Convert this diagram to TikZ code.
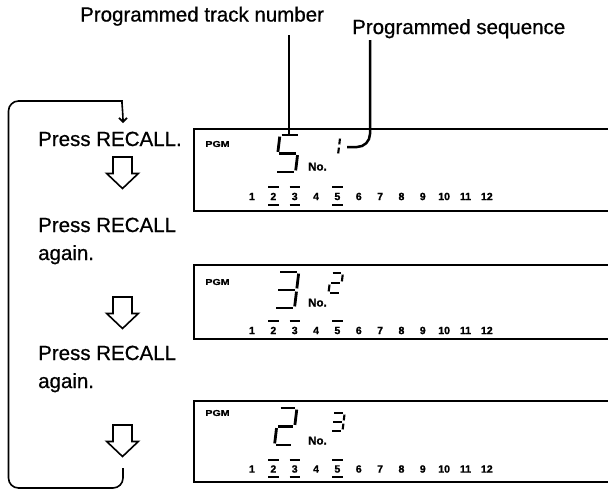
\documentclass[tikz,border=0pt]{standalone}
\usepackage{fontspec}
\setmainfont{Liberation Sans}
\newfontfamily\lblfont{Liberation Sans}[FakeBold=0.7]
\newfontfamily\heavyfont{Liberation Sans Bold}[FakeBold=1.2]
\usetikzlibrary{arrows.meta}
\newcommand\sevdig[6]{% x0, y0 (bottom-left), W, H, line width, segments
 \begin{scope}[shift={(#1,#2)},xslant=0.12,line width=#5]
  \foreach \s in {#6}{%
   \if\s a\draw (1.6,-#4) -- (#3-1.6,-#4);\fi
   \if\s b\draw (#3,-#4+1.6) -- (#3,-#4/2-1.6);\fi
   \if\s c\draw (#3,-#4/2+1.6) -- (#3,-1.6);\fi
   \if\s d\draw (1.6,0) -- (#3-1.6,0);\fi
   \if\s e\draw (0,-1.6) -- (0,-#4/2+1.6);\fi
   \if\s f\draw (0,-#4/2-1.6) -- (0,-#4+1.6);\fi
   \if\s g\draw (1.6,-#4/2) -- (#3-1.6,-#4/2);\fi
  }
 \end{scope}}
\begin{document}
\begin{tikzpicture}[x=1pt,y=-1pt,
  lbl/.style={font=\lblfont\fontsize{20.5}{24}\selectfont, inner sep=0pt, anchor=base west},
  pgm/.style={font=\heavyfont\fontsize{8.5}{10}\selectfont, inner sep=0pt, xscale=1.25},
  nolbl/.style={font=\heavyfont\fontsize{11.5}{12}\selectfont, inner sep=0pt, anchor=base west},
  num/.style={font=\heavyfont\fontsize{10.5}{12}\selectfont, inner sep=0pt},
  box/.style={line width=2pt},
  bar/.style={line width=2pt},
  pointer/.style={line width=2.5pt},
  loopline/.style={line width=1.6pt},
  hollowdown/.pic={\draw[line width=1.6pt, line join=miter]
     (-9.5,0) -- (9.5,0) -- (9.5,16.5) -- (15.8,16.5) -- (0,31.5) -- (-15.8,16.5) -- (-9.5,16.5) -- cycle;}
]
\useasboundingbox (0,0) rectangle (608,491);

% top labels
\node[lbl] (lbltrack) at (80,21.5) {Programmed track number};
\node[lbl] (lblseq) at (352,34) {Programmed sequence};

% left texts
\node[lbl] (t1) at (38,146) {Press RECALL.};
\node[lbl] (t2a) at (38,232) {Press RECALL};
\node[lbl] (t2b) at (38,260) {again.};
\node[lbl] (t3a) at (38,360) {Press RECALL};
\node[lbl] (t3b) at (38,388) {again.};

% hollow arrows
\pic (arrA) at (122.5,157) {hollowdown};
\pic (arrB) at (122.5,297) {hollowdown};
\pic (arrC) at (122.5,425) {hollowdown};

% loop
\coordinate (loopstart) at (123,468);
\coordinate (looptip) at (123,123);
\draw[loopline, rounded corners=10, -{Straight Barb[length=4pt,width=8pt]}]
  (loopstart) -- (123,488) -- (8.5,488) -- (8.5,101) -- (112,101)
  [rounded corners=0] to[out=0,in=90] (looptip);

% display boxes
\draw[box] (610,129) -- (194,129) -- (194,211) -- (610,211);
\draw[box] (610,265) -- (194,265) -- (194,339) -- (610,339);
\draw[box] (610,401) -- (194,401) -- (194,482) -- (610,482);

% PGM labels
\node[pgm] (pgm1) at (217.5,144) {PGM};
\node[pgm] (pgm2) at (217.5,282) {PGM};
\node[pgm] (pgm3) at (217.5,413) {PGM};

% No. labels
\node[nolbl] (no1) at (308,170.5) {No.};
\node[nolbl] (no2) at (308,306.5) {No.};
\node[nolbl] (no3) at (308,444.5) {No.};

% big digits
\sevdig{275.5}{172}{20}{37}{2.8pt}{a,f,g,c,d}
\sevdig{274.5}{308}{20}{36}{2.8pt}{a,b,g,c,d}
\sevdig{274.5}{445}{18}{37}{2.8pt}{a,b,g,e,d}

% small digits
\sevdig{327}{155}{11}{18}{2.1pt}{b,c}
\sevdig{328.5}{293}{12}{20}{2.1pt}{a,b,g,e,d}
\sevdig{330.5}{431}{12}{18}{2.1pt}{a,b,g,c,d}

% track number rows
\foreach \r/\yc in {1/196.5, 2/330.5, 3/469}{
  \foreach \i in {1,...,12}{
    \node[num] (n\r-\i) at ({252+(\i-1)*21.35},\yc) {\i};
  }
  \foreach \i in {2,3,5}{
    \draw[bar] ({252+(\i-1)*21.35-5.2},\yc-9.5) -- +(10.4,0);
    \draw[bar] ({252+(\i-1)*21.35-5.2},\yc+8) -- +(10.4,0);
  }
}

% pointer lines
\coordinate (tracktop) at (289,35);
\coordinate (trackend) at (289,134);
\draw[pointer] (tracktop) -- (trackend);
\coordinate (seqtop) at (370,40);
\coordinate (seqend) at (347,147);
\draw[pointer] (seqtop) -- (370,134) to[out=-90,in=0] (357,147) -- (seqend);
\end{tikzpicture}
\end{document}
